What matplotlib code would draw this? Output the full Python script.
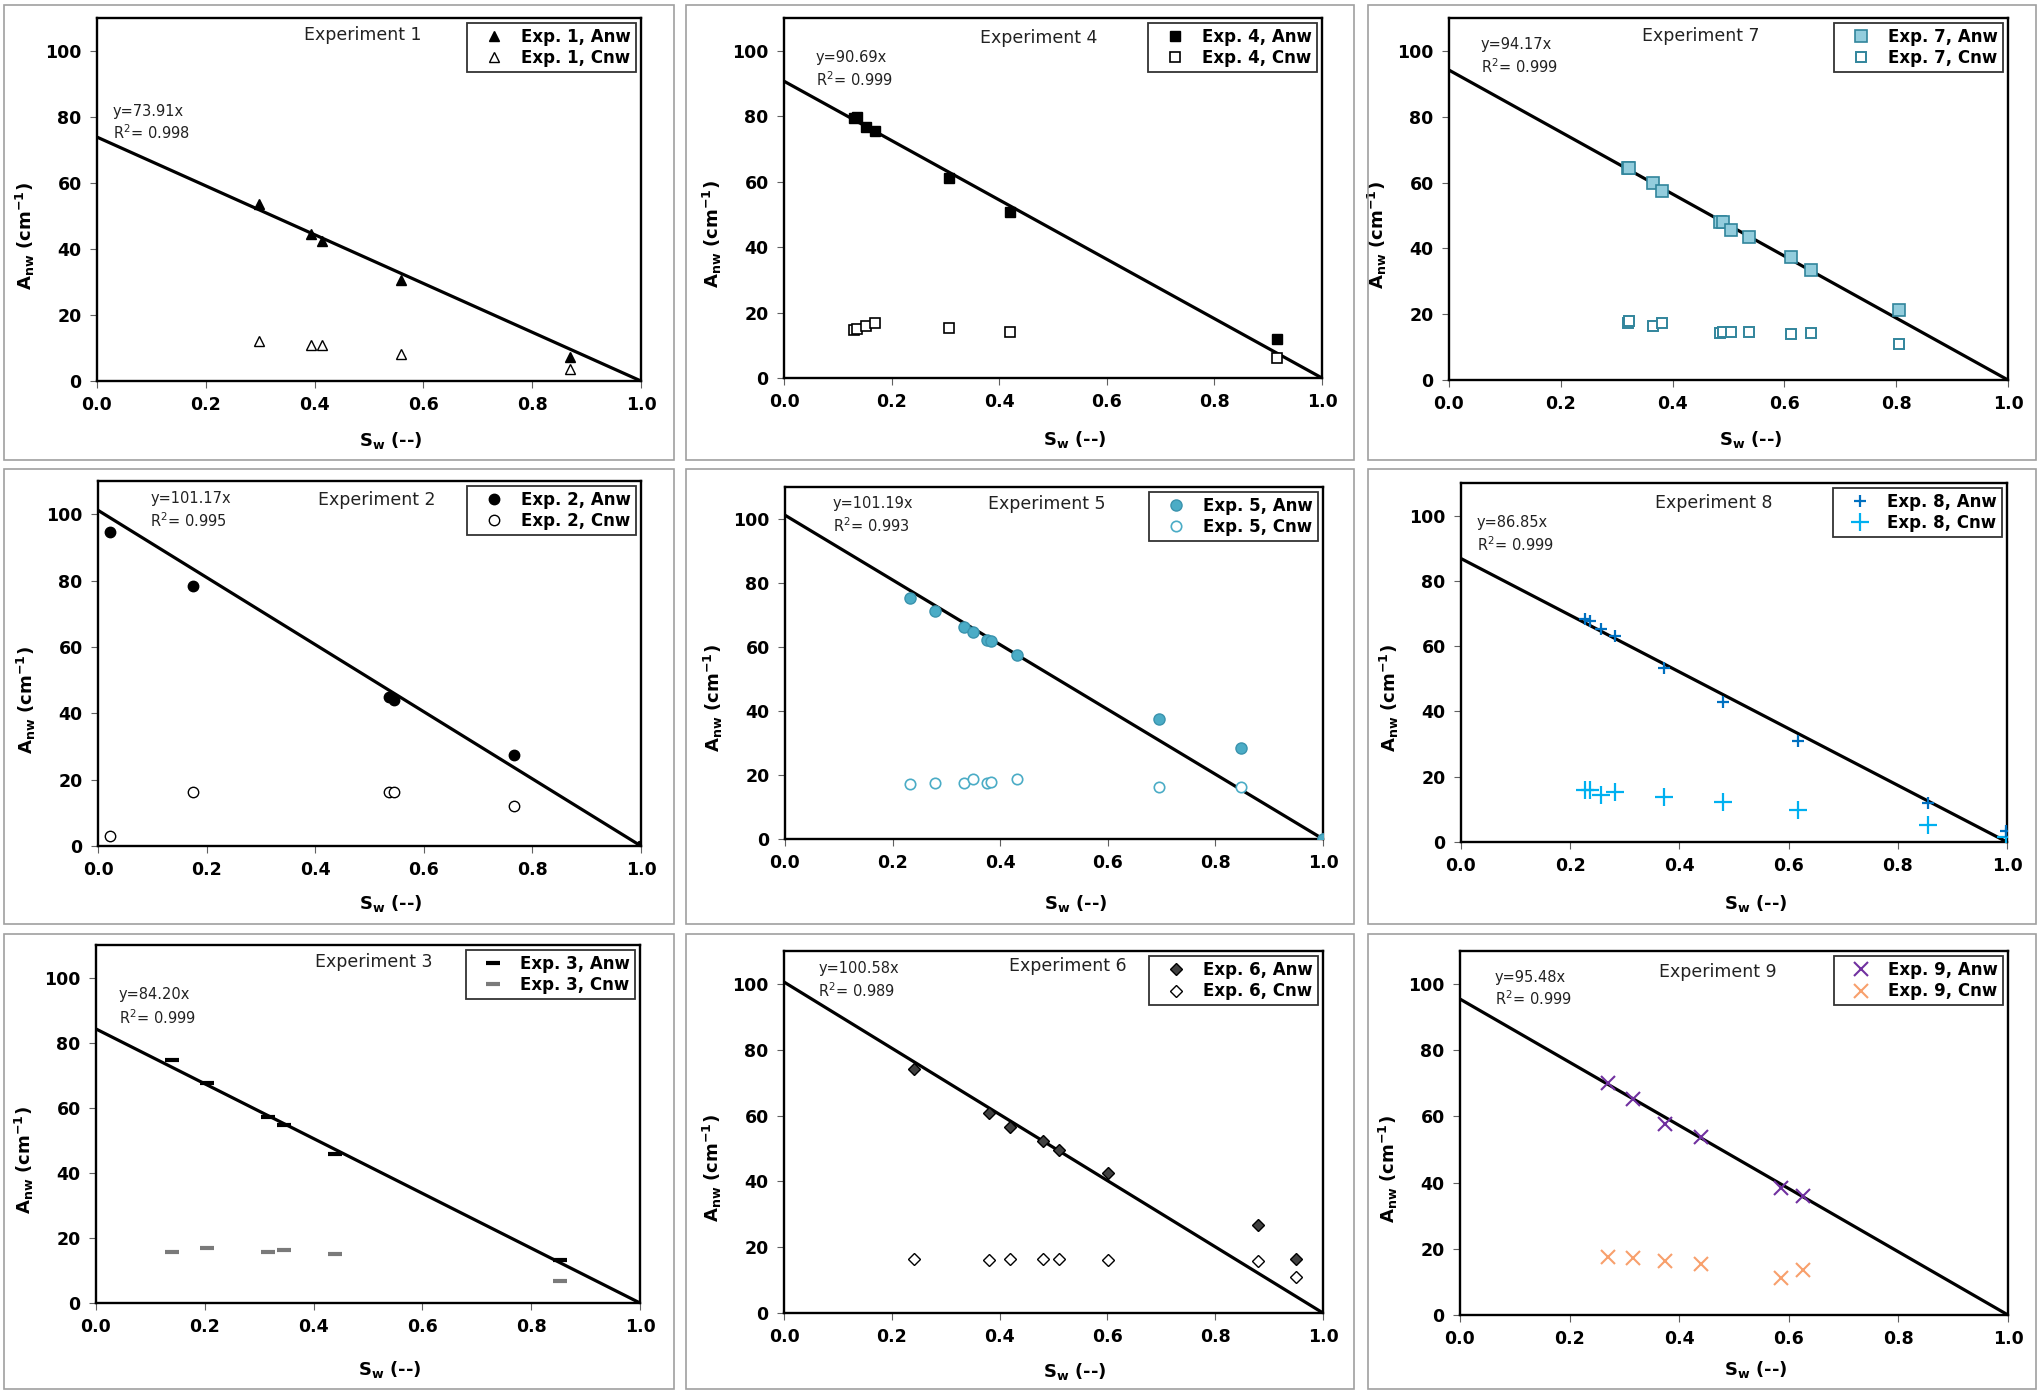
import matplotlib
matplotlib.use("Agg")
import matplotlib.pyplot as plt
from matplotlib.patches import Rectangle
import numpy as np

plt.rcParams['font.family'] = ['DejaVu Sans']
plt.rcParams['mathtext.fontset'] = 'dejavusans'

# ---------------- data ----------------
x_ticks = [0.0, 0.2, 0.4, 0.6, 0.8, 1.0]
y_ticks = [0, 20, 40, 60, 80, 100]
x_tick_labels = ["0.0", "0.2", "0.4", "0.6", "0.8", "1.0"]

exp1_sw = [0.298, 0.393, 0.414, 0.559, 0.869]
exp1_anw = [53.6, 44.4, 42.5, 30.6, 7.4]
exp1_cnw = [12.2, 10.8, 10.8, 8.2, 3.5]

exp2_sw = [0.022, 0.175, 0.536, 0.546, 0.766, 1.0]
exp2_anw = [94.7, 78.5, 44.9, 44.0, 27.4, 0.0]
exp2_cnw = [3.0, 16.3, 16.3, 16.3, 12.1, 0.0]

exp3_sw = [0.139, 0.204, 0.317, 0.345, 0.439, 0.853]
exp3_anw = [74.7, 67.5, 57.0, 54.7, 45.7, 13.3]
exp3_cnw = [15.6, 17.0, 15.8, 16.4, 15.2, 6.7]

exp4_sw = [0.131, 0.136, 0.153, 0.169, 0.307, 0.421, 0.917]
exp4_anw = [79.4, 79.6, 76.8, 75.5, 61.0, 50.6, 12.0]
exp4_cnw = [14.8, 15.1, 16.0, 16.8, 15.4, 14.1, 6.2]

exp5_sw = [0.232, 0.278, 0.332, 0.350, 0.375, 0.382, 0.432, 0.695, 0.847, 1.0]
exp5_anw = [75.3, 71.3, 66.1, 64.8, 62.3, 61.8, 57.6, 37.5, 28.3, 0.0]
exp5_cnw = [17.2, 17.6, 17.6, 18.9, 17.4, 17.9, 18.6, 16.1, 16.3, 0.0]

exp6_sw = [0.241, 0.380, 0.419, 0.480, 0.510, 0.601, 0.880, 0.949]
exp6_anw = [74.2, 60.9, 56.6, 52.3, 49.5, 42.4, 26.6, 16.5]
exp6_cnw = [16.4, 16.2, 16.5, 16.3, 16.4, 16.2, 15.8, 11.0]

exp7_sw = [0.321, 0.322, 0.365, 0.381, 0.484, 0.491, 0.505, 0.537, 0.611, 0.647, 0.805]
exp7_anw = [64.3, 64.3, 60.0, 57.4, 48.1, 48.1, 45.5, 43.4, 37.3, 33.4, 21.3]
exp7_cnw = [17.4, 18.0, 16.4, 17.4, 14.4, 14.7, 14.5, 14.7, 14.0, 14.2, 10.8]

exp8_sw = [0.228, 0.236, 0.256, 0.282, 0.371, 0.479, 0.618, 0.856, 0.998]
exp8_anw = [68.4, 67.6, 65.4, 63.0, 53.3, 42.8, 30.9, 11.8, 3.4]
exp8_cnw = [15.8, 15.8, 14.5, 15.4, 13.8, 12.3, 9.9, 5.3, 1.5]

exp9_sw = [0.270, 0.316, 0.374, 0.439, 0.586, 0.625]
exp9_anw = [70.1, 65.2, 57.8, 53.8, 38.3, 36.1]
exp9_cnw = [17.4, 17.1, 16.3, 15.4, 11.3, 13.6]

fit_slopes = [73.91, 101.17, 84.20, 90.69, 101.19, 100.58, 94.17, 86.85, 95.48]
fit_r2 = ["0.998", "0.995", "0.999", "0.999", "0.993", "0.989", "0.999", "0.999", "0.999"]

experiments = [
    (exp1_sw, exp1_anw, exp1_cnw), (exp2_sw, exp2_anw, exp2_cnw), (exp3_sw, exp3_anw, exp3_cnw),
    (exp4_sw, exp4_anw, exp4_cnw), (exp5_sw, exp5_anw, exp5_cnw), (exp6_sw, exp6_anw, exp6_cnw),
    (exp7_sw, exp7_anw, exp7_cnw), (exp8_sw, exp8_anw, exp8_cnw), (exp9_sw, exp9_anw, exp9_cnw),
]

# ---------------- layout / styles ----------------
W, H = 2040, 1395
fig = plt.figure(figsize=(W / 100, H / 100), dpi=100)
fig.patch.set_facecolor('white')

# axes rectangles in pixels: left, right, top, bottom  (index = experiment-1)
axes_px = [
    (97, 641, 18, 381),     # Exp 1
    (98, 641, 481, 846),    # Exp 2
    (96, 640, 945, 1303),   # Exp 3
    (784, 1322, 18, 378),   # Exp 4
    (785, 1323, 487, 839),  # Exp 5
    (784, 1323, 951, 1313), # Exp 6
    (1449, 2008, 18, 380),  # Exp 7
    (1461, 2007, 483, 842), # Exp 8
    (1460, 2008, 951, 1315) # Exp 9
]
# x-axis title centre (pixel y) per panel
xlab_y_px = [440, 904, 1369, 440, 904, 1372, 440, 904, 1370]
# y-axis title centre: pixels left of the axes, and axes-fraction height
ylab_dx_px = 72
ylab_frac = 0.40

# panel frames (x0, x1, y0, y1) px
col_x = [(4, 674), (686, 1354), (1368, 2036)]
row_y = [(5, 460), (469, 924), (934, 1389)]

# equation text positions (x in axes fraction, y line1, y line2 in data)
eq_pos = [(0.029, 81.7, 75.3), (0.096, 104.8, 98.1), (0.042, 94.7, 87.8),
          (0.059, 98.0, 91.3), (0.089, 104.8, 98.0), (0.064, 104.6, 98.0),
          (0.057, 101.9, 95.1), (0.029, 97.8, 91.2), (0.064, 102.0, 95.5)]
title_pos = [(0.488, 105.0), (0.514, 104.2), (0.51, 104.9),
             (0.473, 103.9), (0.487, 104.8), (0.527, 105.4),
             (0.45, 104.5), (0.462, 103.9), (0.47, 103.8)]

teal7 = '#31859C'
styles = [
    (dict(marker='^', ms=7.5, mfc='black', mec='black', mew=1.0),
     dict(marker='^', ms=7.5, mfc='white', mec='black', mew=1.0)),
    (dict(marker='o', ms=7.5, mfc='black', mec='black', mew=1.0),
     dict(marker='o', ms=7.5, mfc='white', mec='black', mew=1.0)),
    (dict(marker='_', ms=10, mfc='black', mec='black', mew=3.0),
     dict(marker='_', ms=10, mfc='#808080', mec='#7a7a7a', mew=3.0)),
    (dict(marker='s', ms=7.5, mfc='black', mec='black', mew=1.0),
     dict(marker='s', ms=7.5, mfc='white', mec='black', mew=1.2)),
    (dict(marker='o', ms=8, mfc='#4BACC6', mec='#3A93AD', mew=1.0),
     dict(marker='o', ms=7.5, mfc='white', mec='#4BACC6', mew=1.2)),
    (dict(marker='D', ms=6, mfc='#404040', mec='black', mew=1.0),
     dict(marker='D', ms=6, mfc='white', mec='black', mew=1.0)),
    (dict(marker='s', ms=8, mfc='#93CDDD', mec=teal7, mew=1.2),
     dict(marker='s', ms=7.5, mfc='white', mec=teal7, mew=1.4)),
    (dict(marker='+', ms=9, mfc='#0070C0', mec='#0070C0', mew=1.6),
     dict(marker='+', ms=13, mfc='#00B0F0', mec='#00B0F0', mew=1.6)),
    (dict(marker='x', ms=10, mfc='#7030A0', mec='#7030A0', mew=1.5),
     dict(marker='x', ms=10, mfc='#F8A06C', mec='#F8A06C', mew=1.5)),
]

# panel frames
for (x0, x1) in col_x:
    for (y0, y1) in row_y:
        fig.add_artist(Rectangle((x0 / W, 1 - y1 / H), (x1 - x0) / W, (y1 - y0) / H,
                                 transform=fig.transFigure, fill=False,
                                 edgecolor='#A0A0A0', linewidth=1.2))

line_x = np.array([0.0, 1.0])
for i in range(9):
    n = i + 1
    L, R, T, B = axes_px[i]
    ax = fig.add_axes([L / W, 1 - B / H, (R - L) / W, (B - T) / H])
    sw, anw, cnw = experiments[i]
    st_a, st_c = styles[i]
    ax.plot(line_x, fit_slopes[i] * (1 - line_x), color='black', lw=2.3, zorder=2,
            solid_capstyle='butt')
    ax.plot(sw, anw, ls='none', label=f'Exp. {n}, Anw', zorder=4, **st_a)
    ax.plot(sw, cnw, ls='none', label=f'Exp. {n}, Cnw', zorder=3, **st_c)

    ax.set_xlim(0, 1)
    ax.set_ylim(0, 110)
    ax.set_xticks(x_ticks)
    ax.set_xticklabels(x_tick_labels)
    ax.set_yticks(y_ticks)
    for sp in ax.spines.values():
        sp.set_linewidth(1.7)
        sp.set_color('black')
    ax.tick_params(direction='out', length=5, width=0.8, color='#606060',
                   labelsize=12.5, pad=6)
    for lab in ax.get_xticklabels() + ax.get_yticklabels():
        lab.set_fontweight('bold')

    xl = ax.set_xlabel(r'$\mathbf{S_w}$ (--)', fontsize=13, fontweight='bold')
    xl.set_va('center')
    ax.xaxis.set_label_coords(0.54, (B - xlab_y_px[i]) / (B - T))
    yl = ax.set_ylabel(r'$\mathbf{A_{nw}}$ (cm$^{\mathbf{-1}}$)', fontsize=13,
                       fontweight='bold')
    yl.set_va('center')
    ax.yaxis.set_label_coords(-ylab_dx_px / (R - L), ylab_frac)

    ex, ey1, ey2 = eq_pos[i]
    ax.text(ex, ey1, f'y={fit_slopes[i]:.2f}x', transform=ax.get_yaxis_transform(),
            fontsize=10.5, ha='left', va='center', color='#222222')
    ax.text(ex, ey2, f'R$^2$= {fit_r2[i]}', transform=ax.get_yaxis_transform(),
            fontsize=10.5, ha='left', va='center', color='#222222')
    tx, ty = title_pos[i]
    ax.text(tx, ty, f'Experiment {n}', transform=ax.get_yaxis_transform(),
            fontsize=12.5, ha='center', va='center', color='#222222')

    leg = ax.legend(loc='upper right', frameon=True, fancybox=False, shadow=False,
                    borderaxespad=0.3, borderpad=0.3, handlelength=2.6,
                    handletextpad=0.35, labelspacing=0.2, numpoints=1,
                    prop=dict(size=12, weight='bold'))
    leg.get_frame().set_edgecolor('black')
    leg.get_frame().set_linewidth(1.3)
    leg.set_zorder(10)

fig.savefig('out.png', dpi=100, facecolor='white')
